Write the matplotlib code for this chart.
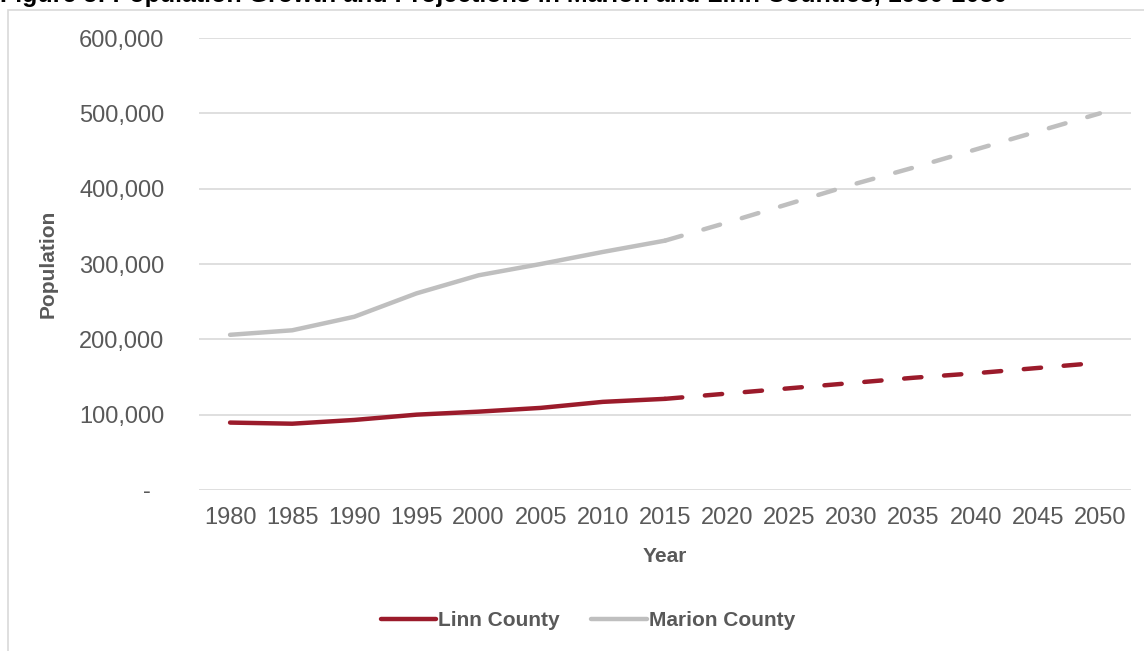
import matplotlib
matplotlib.use("Agg")
import matplotlib.pyplot as plt
from matplotlib.ticker import FuncFormatter
from matplotlib.patches import Rectangle

# Data
years = [1980, 1985, 1990, 1995, 2000, 2005, 2010, 2015,
         2020, 2025, 2030, 2035, 2040, 2045, 2050]
linn = [89500, 88000, 93000, 100000, 104000, 109000, 117000, 121000,
        128000, 135000, 142000, 149000, 155000, 162000, 169000]
marion = [206000, 212000, 230000, 261000, 285000, 300000, 316000, 331000,
          355000, 380000, 405000, 428000, 452000, 476000, 500000]
series_names = ["Linn County", "Marion County"]
last_actual = 7  # index of 2015, projections after that

linn_color = "#9B1B2B"
marion_color = "#BFBFBF"
text_gray = "#595959"

plt.rcParams['font.family'] = ['Liberation Sans', 'DejaVu Sans']

fig = plt.figure(figsize=(11.44, 6.51), dpi=100)

# outer chart frame
fig.patches.append(Rectangle((8 / 1144, -0.1), 1.2, 1 - 10 / 651 + 0.1,
                             transform=fig.transFigure, fill=False,
                             edgecolor="#D9D9D9", linewidth=1.2))

fig.text(0.0, 1 - 2 / 651, "Figure 5: Population Growth and Projections in Marion and Linn Counties, 1980-2050",
         fontsize=18, fontweight="bold", color="black", va="baseline", ha="left")

ax = fig.add_axes([199 / 1144, 1 - 490 / 651, 932 / 1144, 452 / 651])

x = list(range(len(years)))
lw = 3.2
for vals, color, name in [(linn, linn_color, series_names[0]),
                          (marion, marion_color, series_names[1])]:
    ax.plot(x[:last_actual + 1], vals[:last_actual + 1], color=color,
            linewidth=lw, solid_capstyle="round", label=name)
    ax.plot(x[last_actual:], vals[last_actual:], color=color,
            linewidth=lw, dashes=(3.9, 5.1), dash_capstyle="round")

ax.set_xlim(-0.5, len(years) - 0.5)
ax.set_ylim(0, 600000)
ax.set_yticks(range(0, 600001, 100000))
ax.yaxis.set_major_formatter(FuncFormatter(
    lambda v, p: "-  " if v == 0 else f"{int(v):,}"))
ax.set_xticks(x)
ax.set_xticklabels([str(y) for y in years])

ax.grid(axis="y", color="#D9D9D9", linewidth=1.2)
ax.set_axisbelow(True)
for s in ax.spines.values():
    s.set_visible(False)
ax.tick_params(axis="both", length=0, labelsize=17, labelcolor=text_gray)
ax.tick_params(axis="y", pad=25)
ax.tick_params(axis="x", pad=12)

ax.set_ylabel("Population", fontsize=15, fontweight="bold", color=text_gray)
ax.yaxis.set_label_coords(-0.152, 0.5)
ax.set_xlabel("Year", fontsize=15, fontweight="bold", color=text_gray)
ax.xaxis.set_label_coords(0.5, -0.125)

fig.legend(loc="center", bbox_to_anchor=(588 / 1144, 1 - 621 / 651), ncol=2,
           frameon=False, handlelength=2.65, handletextpad=0.1,
           columnspacing=1.5, prop={"size": 15, "weight": "bold"},
           labelcolor=text_gray)

fig.savefig("out.png", dpi=100)
